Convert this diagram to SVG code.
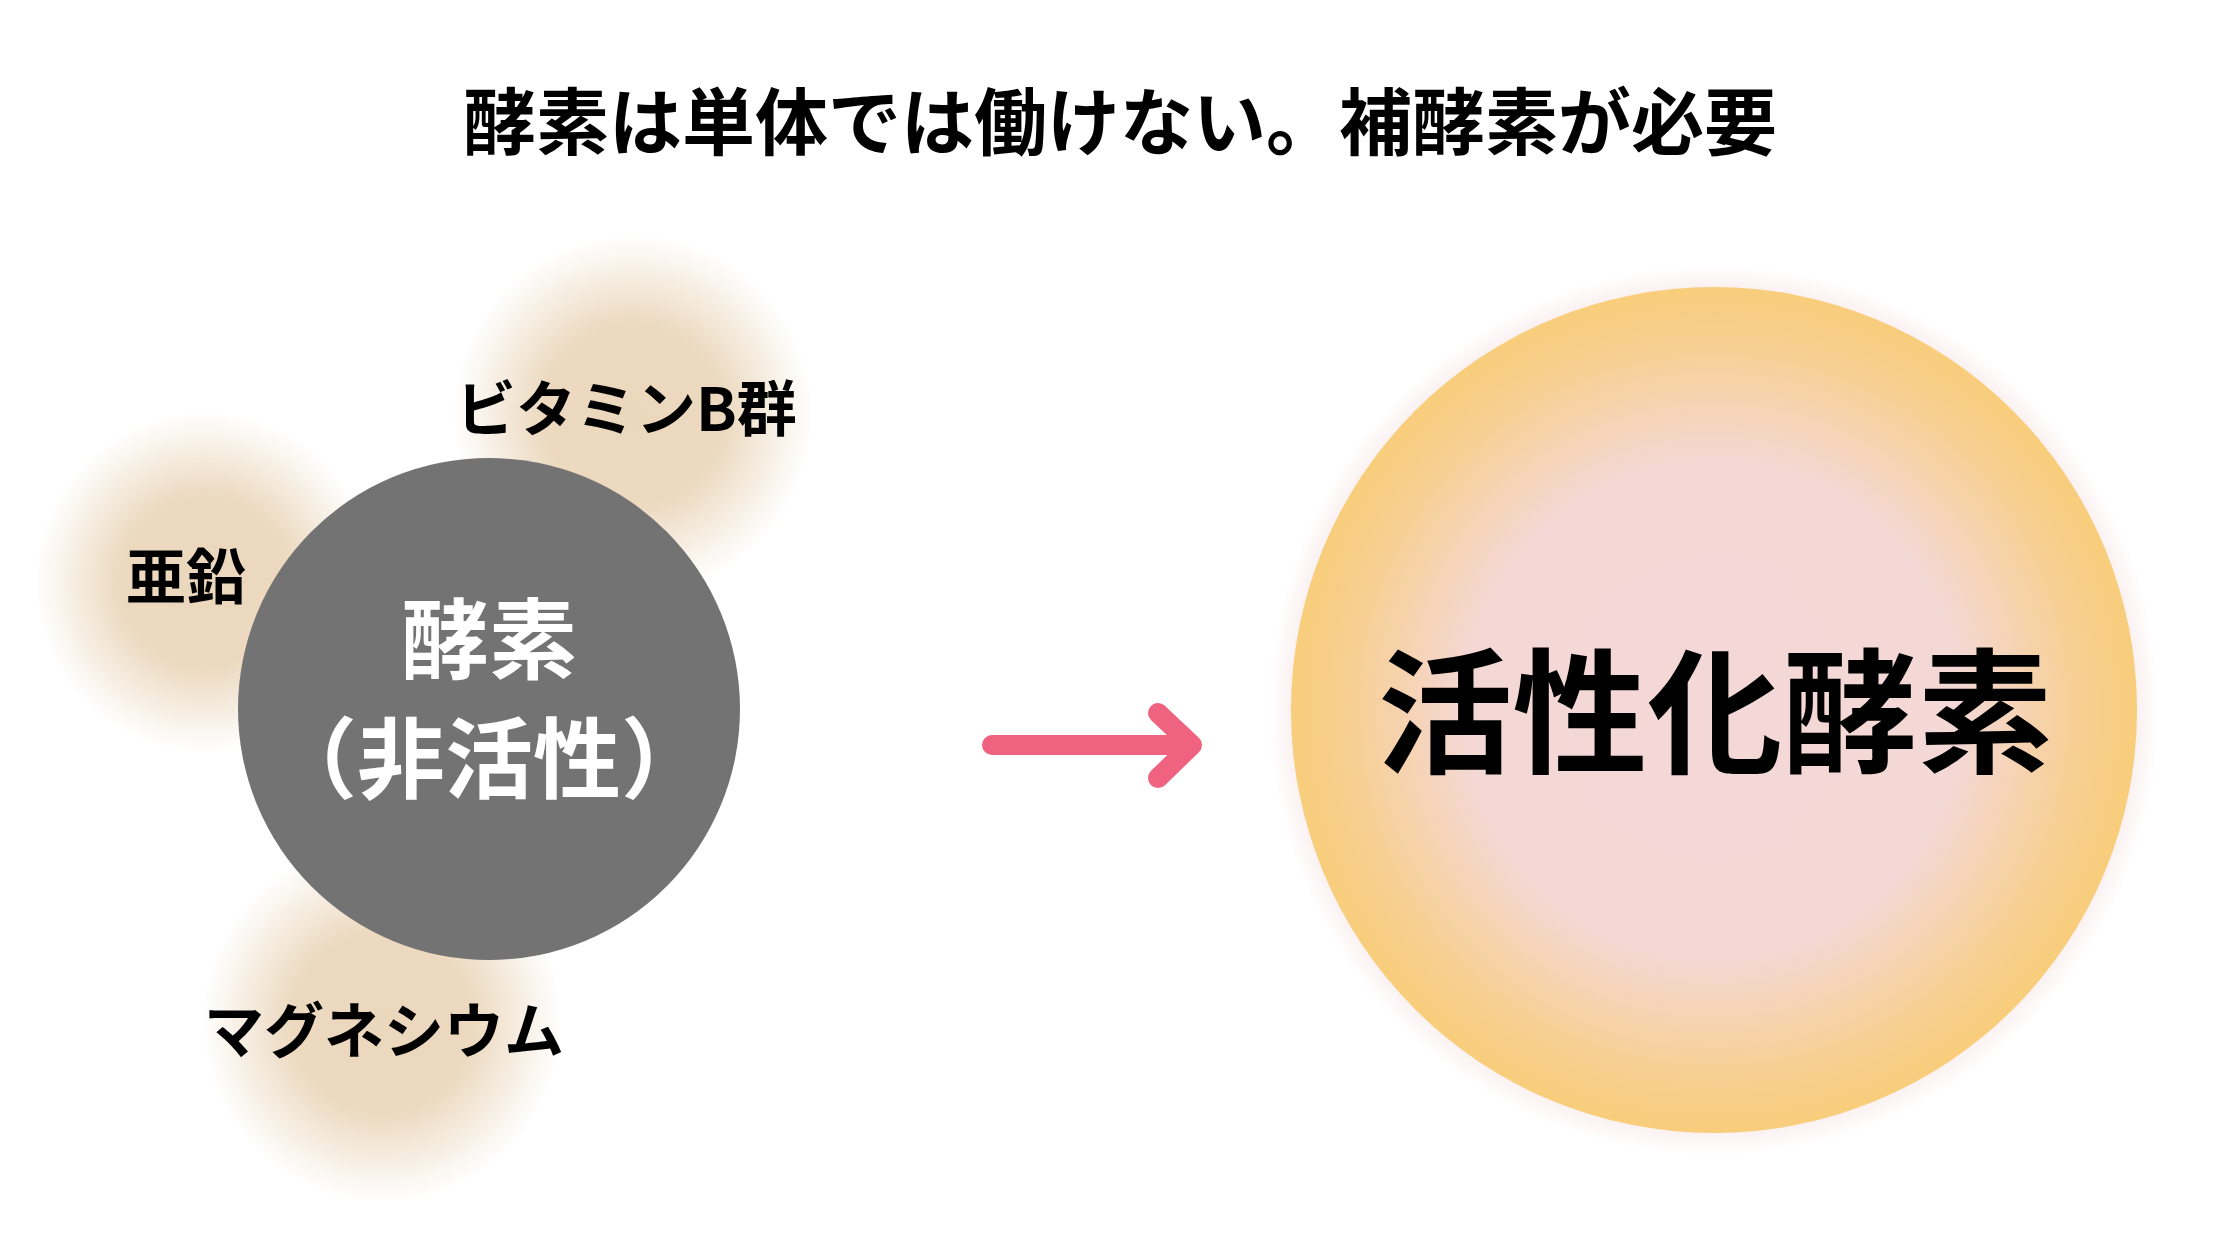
<svg xmlns="http://www.w3.org/2000/svg" width="2240" height="1260" viewBox="0 0 2240 1260">
<defs>
<style>
text{font-family:"Noto Sans CJK JP","Noto Sans",sans-serif;font-weight:700;text-anchor:middle}
.title{font-size:73px;fill:#000}
.lbl{font-size:60px;fill:#000;text-anchor:start}
.inner{font-size:88px;fill:#fff}
.big{font-size:135px;fill:#000}
</style>
<radialGradient id="blob">
<stop offset="0" stop-color="#ebd7bc" stop-opacity="1"/>
<stop offset="0.5" stop-color="#ebd7bc" stop-opacity="0.95"/>
<stop offset="1" stop-color="#ebd7bc" stop-opacity="0"/>
</radialGradient>
<radialGradient id="active">
<stop offset="0" stop-color="#f4d8d7"/>
<stop offset="0.58" stop-color="#f4d8d6"/>
<stop offset="0.86" stop-color="#f7cf93"/>
<stop offset="1" stop-color="#f8cd7b"/>
</radialGradient>
<radialGradient id="halo">
<stop offset="0.9" stop-color="#f6dcdc" stop-opacity="0.8"/>
<stop offset="1" stop-color="#f6dcdc" stop-opacity="0"/>
</radialGradient>
</defs>
<rect width="2240" height="1260" fill="#fff"/>
<text class="title" x="1120" y="149">酵素は単体では働けない。補酵素が必要</text>

<g id="blob-vitamin"><circle cx="633" cy="415" r="180" fill="url(#blob)"/></g>
<g id="blob-zinc"><circle cx="205" cy="582" r="170" fill="url(#blob)"/></g>
<g id="blob-mg"><circle cx="382" cy="1022" r="180" fill="url(#blob)"/></g>

<g id="enzyme">
<circle cx="489" cy="709" r="251" fill="#737373"/>
<text class="inner" x="489" y="672">酵素</text>
<text class="inner" x="489" y="791">（非活性）</text>
</g>

<g id="vitamin"><text class="lbl" x="456" y="431">ビタミンB群</text></g>
<g id="zinc"><text class="lbl" x="126" y="599">亜鉛</text></g>
<g id="magnesium"><text class="lbl" x="204" y="1053">マグネシウム</text></g>

<g id="connectors">
<path d="M992 745H1192M1158 713L1192 745L1158 778" fill="none" stroke="#ef6280" stroke-width="20" stroke-linecap="round" stroke-linejoin="round"/>
</g>

<g id="active-enzyme">
<circle cx="1714" cy="710" r="445" fill="url(#halo)"/>
<circle cx="1714" cy="710" r="423" fill="url(#active)"/>
<text class="big" x="1715" y="763">活性化酵素</text>
</g>
</svg>
